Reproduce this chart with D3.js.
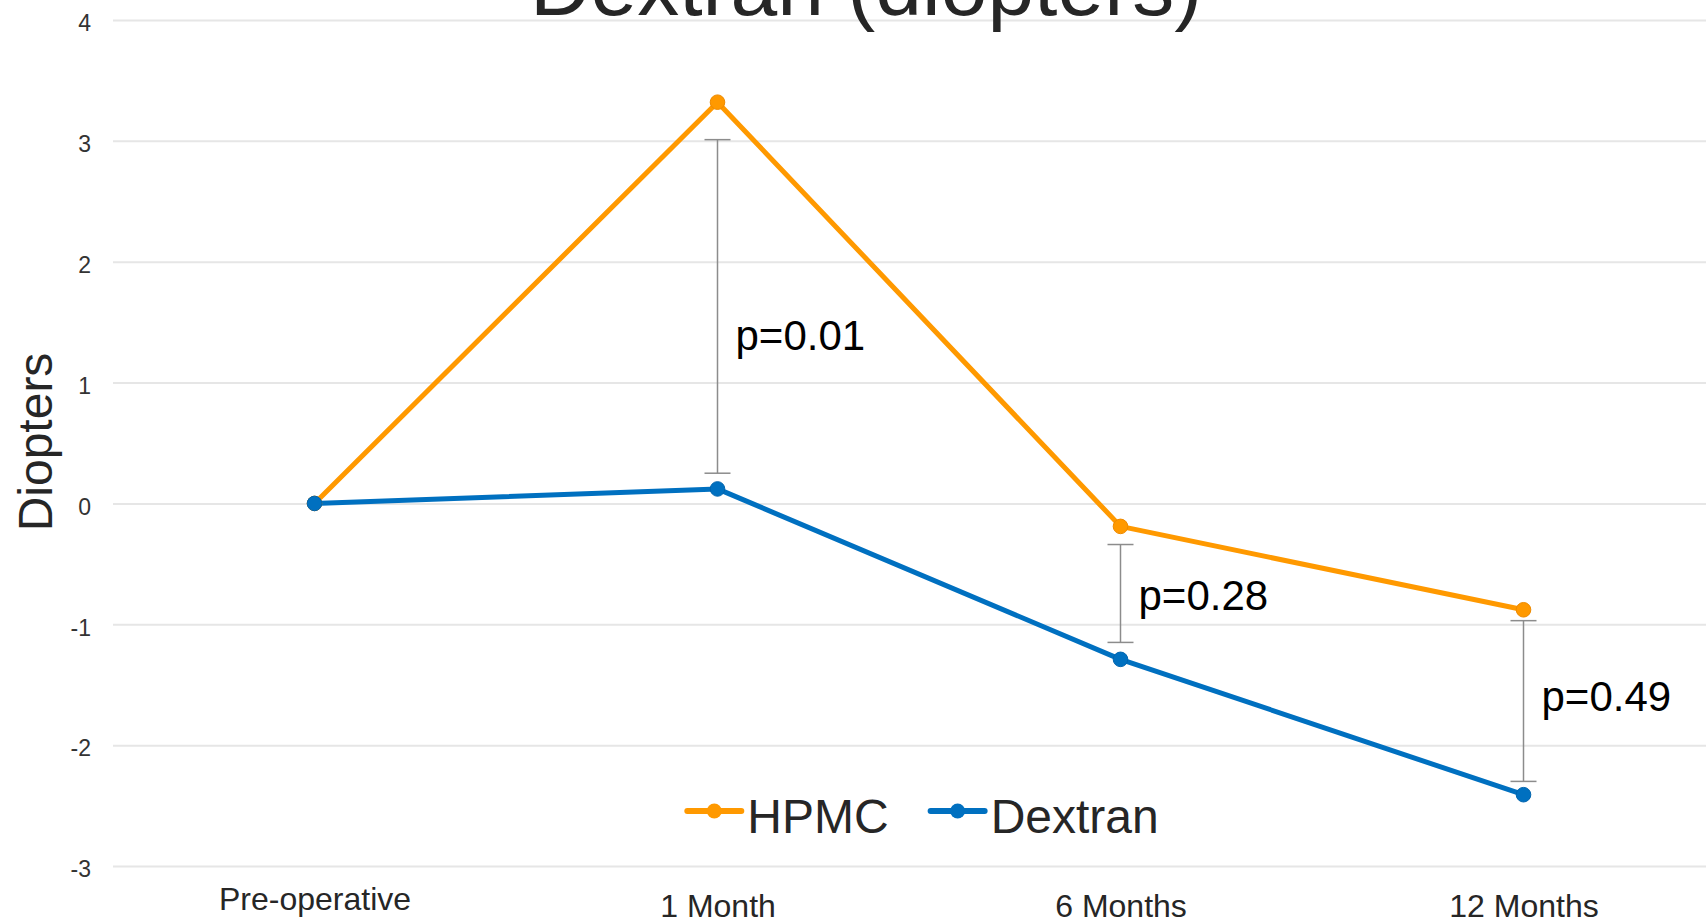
<!DOCTYPE html>
<html><head><meta charset="utf-8">
<script src="https://cdn.jsdelivr.net/npm/d3@7"></script>
<style>
body{margin:0;background:#fff;overflow:hidden}
text{font-family:"Liberation Sans",Arial,sans-serif}
</style>
</head><body>
<svg id="c" width="1706" height="921"></svg>
<script>
// ---- data ----
const categories = ["Pre-operative", "1 Month", "6 Months", "12 Months"];
const hpmcValues = [0, 3.32, -0.19, -0.88];
const dextranValues = [0, 0.12, -1.29, -2.41];
const seriesNames = ["HPMC", "Dextran"];
const yTicks = [-3, -2, -1, 0, 1, 2, 3, 4];
const errCategories = ["1 Month", "6 Months", "12 Months"];
const errTop = [3.01, -0.34, -0.97];
const errBottom = [0.25, -1.15, -2.30];
const pLabels = ["p=0.01", "p=0.28", "p=0.49"];
const pLabelAt = [1.27, -0.88, -1.72];
const titleText = "Dextran (diopters)";
const yAxisTitle = "Diopters";

// ---- layout ----
const W = 1706, H = 921;
const plot = {left: 113, right: 1725, top: 20, bottom: 866};
const colors = {HPMC: "#FF9900", Dextran: "#0070C0"};
const markerStroke = {HPMC: "#EE8A00", Dextran: "#0064AE"};

const svg = d3.select("#c");
const x = d3.scalePoint().domain(categories).range([plot.left, plot.right]).padding(0.5);
const y = d3.scaleLinear().domain([-3, 4]).range([plot.bottom, plot.top]);

// gridlines + y tick labels
const yAxis = svg.append("g").attr("transform", `translate(${plot.left},0)`)
  .call(d3.axisLeft(y).tickValues(yTicks).tickSize(-(W - plot.left)).tickPadding(22).tickFormat(d => String(d)));
yAxis.select(".domain").remove();
yAxis.selectAll(".tick line").attr("stroke", "#e6e6e6").attr("stroke-width", 2);
yAxis.selectAll(".tick text").attr("font-size", 23).attr("fill", "#333").attr("dy", "0.47em")
  .style("font-family", '"Liberation Sans", Arial, sans-serif');

// x tick labels
const xAxis = svg.append("g").attr("transform", `translate(0,${plot.bottom})`)
  .call(d3.axisBottom(x).tickSize(0));
xAxis.select(".domain").remove();
xAxis.selectAll(".tick text").attr("font-size", 32).attr("fill", "#262626").attr("dy", 0)
  .attr("y", d => /[gjpqy]/.test(d) ? 44 : 51)
  .style("font-family", '"Liberation Sans", Arial, sans-serif');

// title
svg.append("text").attr("x", 866).attr("y", 15).attr("text-anchor", "middle")
  .attr("font-size", 84).attr("fill", "#262626").text(titleText);

// y axis title
svg.append("text").attr("transform", "translate(52,442) rotate(-90)").attr("text-anchor", "middle")
  .attr("font-size", 48).attr("fill", "#262626").text(yAxisTitle);

// error bars
const eb = svg.append("g");
errCategories.forEach((c, i) => {
  const cx = x(c);
  eb.append("line").attr("x1", cx).attr("x2", cx).attr("y1", y(errTop[i])).attr("y2", y(errBottom[i]))
    .attr("stroke", "#8c8c8c").attr("stroke-width", 1.5);
  [errTop[i], errBottom[i]].forEach(v => {
    eb.append("line").attr("x1", cx - 13).attr("x2", cx + 13).attr("y1", y(v)).attr("y2", y(v))
      .attr("stroke", "#8c8c8c").attr("stroke-width", 1.5);
  });
  svg.append("text").attr("x", cx + 18).attr("y", y(pLabelAt[i])).attr("font-size", 42)
    .attr("fill", "#000").text(pLabels[i]);
});

// series
const series = [{name: seriesNames[0], values: hpmcValues}, {name: seriesNames[1], values: dextranValues}];
const line = d3.line().x((d, i) => x(categories[i])).y(d => y(d));
series.forEach(s => {
  svg.append("path").datum(s.values).attr("d", line).attr("fill", "none")
    .attr("stroke", colors[s.name]).attr("stroke-width", 5).attr("stroke-linejoin", "round");
});
series.forEach(s => {
  svg.append("g").selectAll("circle").data(s.values).join("circle")
    .attr("cx", (d, i) => x(categories[i])).attr("cy", d => y(d)).attr("r", 7.3)
    .attr("fill", colors[s.name]).attr("stroke", markerStroke[s.name]).attr("stroke-width", 1);
});

// legend
const leg = svg.append("g");
let lx = 0;
const symW = 54, gapText = 6, gapEntry = 42, legY = 811;
series.forEach((s, i) => {
  const g = leg.append("g").attr("transform", `translate(${lx},0)`);
  g.append("line").attr("x1", 0).attr("x2", symW).attr("y1", legY).attr("y2", legY)
    .attr("stroke", colors[s.name]).attr("stroke-width", 6).attr("stroke-linecap", "round");
  g.append("circle").attr("cx", symW / 2).attr("cy", legY).attr("r", 7.5).attr("fill", colors[s.name]);
  const t = g.append("text").attr("x", symW + gapText).attr("y", 833).attr("font-size", 48)
    .attr("fill", "#262626").text(s.name);
  lx += symW + gapText + t.node().getComputedTextLength() + gapEntry;
});
const legW = lx - gapEntry;
leg.attr("transform", `translate(${(plot.left + plot.right) / 2 - legW / 2 + 4},0)`);
</script>
</body></html>
